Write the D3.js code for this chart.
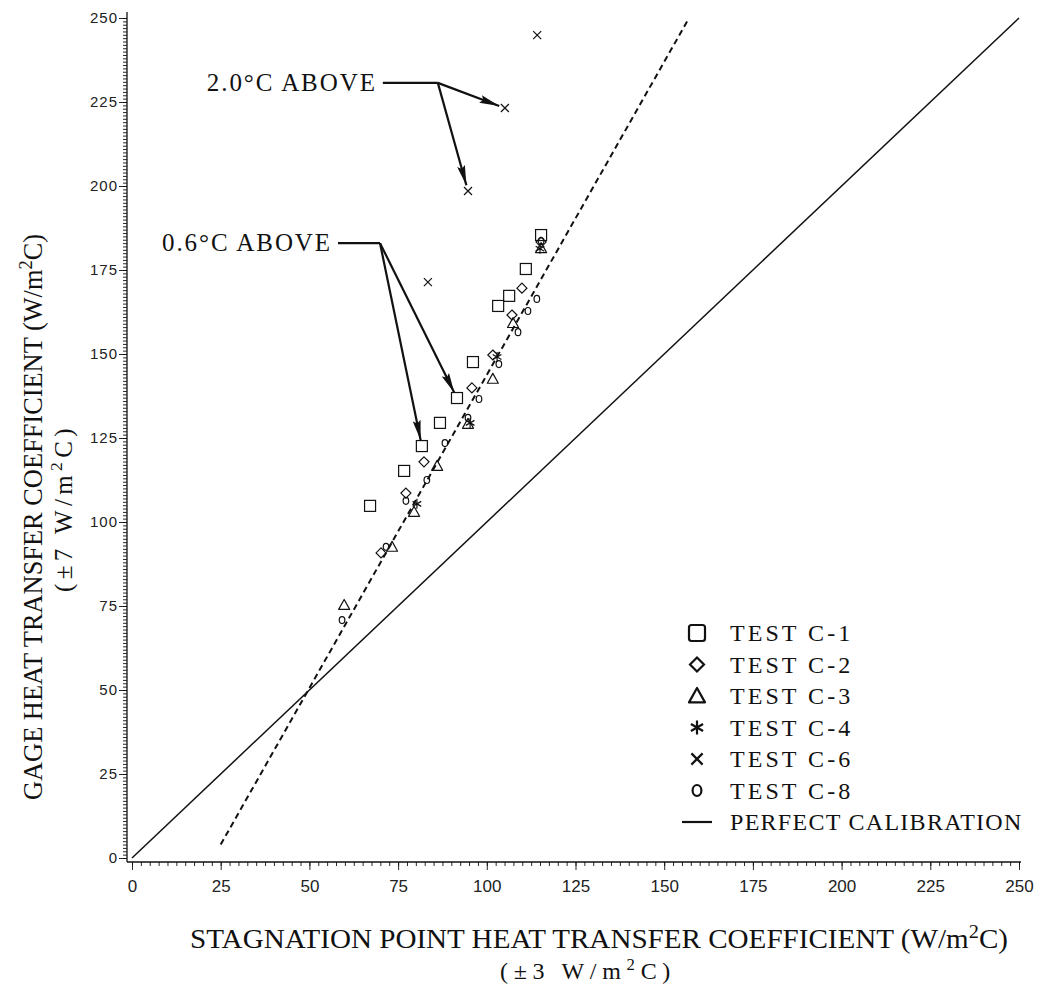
<!DOCTYPE html>
<html>
<head>
<meta charset="utf-8">
<script src="https://cdn.jsdelivr.net/npm/d3@7"></script>
<style>
html,body{margin:0;padding:0;background:#fff;}
svg{display:block;}
</style>
</head>
<body>
<script>
// ---------- data ----------
const xTicks = [0,25,50,75,100,125,150,175,200,225,250];
const yTicks = [0,25,50,75,100,125,150,175,200,225,250];

const testC1 = [[115.3,185.4],[111.0,175.3],[106.3,167.3],[103.2,164.3],[96.1,147.6],[91.6,136.9],[86.8,129.5],[81.7,122.6],[76.7,115.2],[67.1,104.8]];
const testC2 = [[115.3,183.3],[109.9,169.6],[107.1,161.6],[101.7,149.7],[95.8,139.9],[82.3,117.9],[77.2,108.6],[70.2,90.8]];
const testC3 = [[115.3,181.5],[107.4,159.2],[101.7,142.6],[94.7,129.2],[86.0,116.7],[79.5,103.0],[73.3,92.6],[59.8,75.3]];
const testC4 = [[115.0,181.3],[102.9,149.1],[95.3,129.5],[80.3,105.4]];
const testC6 = [[114.2,244.9],[105.1,223.2],[94.7,198.5],[83.4,171.4]];
const testC8 = [[115.3,183.6],[114.1,166.4],[111.6,162.8],[108.8,156.5],[103.4,147.0],[97.8,136.6],[94.7,131.0],[88.2,123.5],[83.1,112.5],[77.2,106.3],[71.6,92.6],[59.2,70.8]];

const perfectLine = [[0,0],[250,250]];
const fitLine = [[25,4],[157,250]];

const legendLabels = ["TEST C-1","TEST C-2","TEST C-3","TEST C-4","TEST C-6","TEST C-8","PERFECT CALIBRATION"];
const legendShapes = ["square","diamond","triangle","asterisk","cross","circle","line"];

const annot2Label = "2.0°C ABOVE";
const annot2Elbow = [86.2,230.7];
const annot2Targets = [[105.1,223.2],[94.7,198.5]];
const annot06Label = "0.6°C ABOVE";
const annot06Elbow = [69.9,183.0];
const annot06Targets = [[91.6,136.9],[81.7,122.6]];

// ---------- setup ----------
const W = 1042, H = 985;
const svg = d3.select("body").append("svg").attr("width",W).attr("height",H);
const x = d3.scaleLinear().domain([0,250]).range([132,1019]);
const y = d3.scaleLinear().domain([0,250]).range([858,18]);
const ink = "#111";

svg.append("defs").append("marker")
  .attr("id","arrow").attr("viewBox","0 0 20 8").attr("refX",20).attr("refY",4)
  .attr("markerWidth",20).attr("markerHeight",8).attr("markerUnits","userSpaceOnUse")
  .attr("orient","auto")
  .append("path").attr("d","M0,0 L20,4 L0,8 L3,4 Z").attr("fill",ink);

function fitSpacing(sel, target){
  const n = sel.text().length;
  const w = sel.node().getComputedTextLength();
  sel.attr("letter-spacing", ((target - w)/n).toFixed(2) + "px");
  return sel;
}

// ---------- axes ----------
const xAxisY = y(0)+4;
const yAxisX = x(0)-5;

const gx = svg.append("g").attr("transform",`translate(0,${xAxisY})`);
gx.call(d3.axisBottom(x).tickValues(d3.range(0,250.01,2.5)).tickSize(4).tickFormat("").tickSizeOuter(0));
gx.select(".domain").remove();
const gx2 = svg.append("g").attr("transform",`translate(0,${xAxisY})`);
gx2.call(d3.axisBottom(x).tickValues(xTicks).tickSize(8).tickPadding(10).tickSizeOuter(0));
gx2.select(".domain").remove();
svg.append("line").attr("x1",yAxisX).attr("x2",x(250)+2).attr("y1",xAxisY).attr("y2",xAxisY)
  .attr("stroke",ink).attr("stroke-width",1.3);
gx2.selectAll("text").attr("font-family","Liberation Sans Narrow, Liberation Sans, sans-serif")
  .attr("font-size",17).attr("fill","#222");

const gy = svg.append("g").attr("transform",`translate(${yAxisX},0)`);
gy.call(d3.axisLeft(y).tickValues(d3.range(0,250.01,1)).tickSize(4).tickFormat("").tickSizeOuter(0));
gy.select(".domain").remove();
const gy2 = svg.append("g").attr("transform",`translate(${yAxisX},0)`);
gy2.call(d3.axisLeft(y).tickValues(yTicks).tickSize(8).tickPadding(1).tickSizeOuter(0));
gy2.select(".domain").remove();
svg.append("line").attr("x1",yAxisX).attr("x2",yAxisX).attr("y1",y(250)-6).attr("y2",xAxisY)
  .attr("stroke",ink).attr("stroke-width",1.3);
gy2.selectAll("text").attr("font-family","Liberation Sans, sans-serif")
  .attr("font-size",15).attr("letter-spacing","1px").attr("fill","#222");
svg.selectAll("g.tick line").attr("stroke",ink).attr("stroke-width",0.9);

// ---------- axis titles ----------
const titleFont = "Liberation Serif, DejaVu Serif, serif";
function titleText(sel, parts){
  parts.forEach(p=>{
    const t = sel.append("tspan").text(p.t);
    if(p.sup){ t.attr("baseline-shift","super").attr("font-size","70%"); }
  });
  return sel;
}
const xt1 = svg.append("text").attr("x",190).attr("y",948)
  .attr("font-family",titleFont).attr("font-size",28).attr("fill",ink)
  .attr("textLength",818).attr("lengthAdjust","spacingAndGlyphs");
titleText(xt1,[{t:"STAGNATION POINT HEAT TRANSFER COEFFICIENT (W/m"},{t:"2",sup:true},{t:"C)"}]);
const xt2 = svg.append("text").attr("x",500).attr("y",979)
  .attr("font-family",titleFont).attr("font-size",24).attr("fill",ink);
titleText(xt2,[{t:"(±3 W/m"},{t:"2",sup:true},{t:"C)"}]);
fitSpacing(xt2, 176);

const yt1 = svg.append("text").attr("transform","translate(42,800) rotate(-90)")
  .attr("font-family",titleFont).attr("font-size",28).attr("fill",ink)
  .attr("textLength",566).attr("lengthAdjust","spacingAndGlyphs");
titleText(yt1,[{t:"GAGE HEAT TRANSFER COEFFICIENT (W/m"},{t:"2",sup:true},{t:"C)"}]);
const yt2 = svg.append("text").attr("transform","translate(72,592) rotate(-90)")
  .attr("font-family",titleFont).attr("font-size",25).attr("fill",ink);
titleText(yt2,[{t:"(±7 W/m"},{t:"2",sup:true},{t:"C)"}]);
fitSpacing(yt2, 168);

// ---------- lines ----------
const line = d3.line().x(d=>x(d[0])).y(d=>y(d[1]));
svg.append("path").attr("d",line(perfectLine)).attr("fill","none").attr("stroke",ink).attr("stroke-width",1.5);
svg.append("path").attr("d",line(fitLine)).attr("fill","none").attr("stroke",ink)
  .attr("stroke-width",2).attr("stroke-dasharray","6,4");

// ---------- markers ----------
function drawMarker(g, shape, cx, cy, s, sw){
  const h = s/2;
  if(shape==="square"){
    g.append("rect").attr("x",cx-h).attr("y",cy-h).attr("width",s).attr("height",s)
      .attr("fill","none").attr("stroke",ink).attr("stroke-width",sw).attr("rx",sw>1.5?2.5:0);
  } else if(shape==="diamond"){
    g.append("path").attr("d",`M${cx},${cy-h}L${cx+h},${cy}L${cx},${cy+h}L${cx-h},${cy}Z`)
      .attr("fill","none").attr("stroke",ink).attr("stroke-width",sw);
  } else if(shape==="triangle"){
    g.append("path").attr("d",`M${cx},${cy-h}L${cx+h},${cy+h*0.8}L${cx-h},${cy+h*0.8}Z`)
      .attr("fill","none").attr("stroke",ink).attr("stroke-width",sw).attr("stroke-linejoin","round");
  } else if(shape==="asterisk"){
    let d="";
    for(let k=0;k<3;k++){
      const a = Math.PI/2 + k*Math.PI/3;
      d+=`M${cx+h*Math.cos(a)},${cy+h*Math.sin(a)}L${cx-h*Math.cos(a)},${cy-h*Math.sin(a)}`;
    }
    g.append("path").attr("d",d).attr("stroke",ink).attr("stroke-width",sw).attr("fill","none");
  } else if(shape==="cross"){
    const q = h*0.8;
    g.append("path").attr("d",`M${cx-q},${cy-q}L${cx+q},${cy+q}M${cx-q},${cy+q}L${cx+q},${cy-q}`)
      .attr("stroke",ink).attr("stroke-width",sw).attr("fill","none");
  } else if(shape==="circle"){
    g.append("ellipse").attr("cx",cx).attr("cy",cy).attr("rx",h*0.8).attr("ry",h)
      .attr("fill","none").attr("stroke",ink).attr("stroke-width",sw);
  } else if(shape==="line"){
    g.append("line").attr("x1",cx-15).attr("x2",cx+15).attr("y1",cy).attr("y2",cy)
      .attr("stroke",ink).attr("stroke-width",sw);
  }
}
const series = [
  {data:testC1, shape:"square", size:11},
  {data:testC2, shape:"diamond", size:10},
  {data:testC3, shape:"triangle", size:11},
  {data:testC4, shape:"asterisk", size:10},
  {data:testC6, shape:"cross", size:10},
  {data:testC8, shape:"circle", size:7}
];
const gm = svg.append("g");
series.forEach(s=>{
  s.data.forEach(d=>drawMarker(gm, s.shape, x(d[0]), y(d[1]), s.size, 1.2));
});

// ---------- annotations ----------
function annotate(label, elbow, targets, lineLen){
  const ex = x(elbow[0]), ey = y(elbow[1]);
  const lineStart = ex - lineLen;
  svg.append("line").attr("x1",lineStart).attr("x2",ex).attr("y1",ey).attr("y2",ey)
    .attr("stroke",ink).attr("stroke-width",2.2);
  targets.forEach(t=>{
    const tx = x(t[0]), ty = y(t[1]);
    const dx = tx-ex, dy = ty-ey, L = Math.hypot(dx,dy);
    const k = (L-6)/L;
    svg.append("line").attr("x1",ex).attr("y1",ey).attr("x2",ex+dx*k).attr("y2",ey+dy*k)
      .attr("stroke",ink).attr("stroke-width",2.2).attr("marker-end","url(#arrow)");
  });
  const t = svg.append("text").attr("x",lineStart-6-170).attr("y",ey+8)
    .attr("font-family",titleFont).attr("font-size",25).attr("fill",ink).text(label);
  fitSpacing(t, 170);
}
annotate(annot2Label, annot2Elbow, annot2Targets, 55);
annotate(annot06Label, annot06Elbow, annot06Targets, 42);

// ---------- legend ----------
const lg = svg.append("g");
legendLabels.forEach((lab,i)=>{
  const cy = 633 + i*31.5;
  const shp = legendShapes[i];
  const sz = {square:16,diamond:14,triangle:16,asterisk:14,cross:14,circle:11,line:0}[shp];
  drawMarker(lg, shp, 697, cy, sz, 2.2);
  const t = lg.append("text").attr("x",730).attr("y",cy+8).attr("font-family",titleFont)
    .attr("font-size",24).attr("fill",ink).text(lab);
  fitSpacing(t, lab.length*15.4);
});
</script>
</body>
</html>
